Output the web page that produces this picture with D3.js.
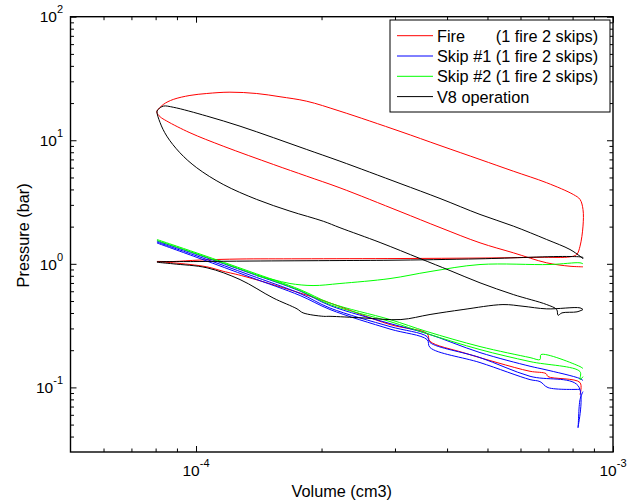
<!DOCTYPE html>
<html><head><meta charset="utf-8">
<script src="https://cdn.jsdelivr.net/npm/d3@7"></script>
<style>
body{margin:0;background:#fff}
svg{display:block}
text{font-family:"Liberation Sans",Arial,Helvetica,sans-serif;fill:#000}
</style>
</head><body>
<svg id="c" width="634" height="502"></svg>
<script>
// ---------- data: [Volume (cm3), Pressure (bar)] ----------
const seriesNames = ["Fire", "Skip #1", "Skip #2", "V8 operation"];
const seriesSuffix = ["(1 fire 2 skips)", "(1 fire 2 skips)", "(1 fire 2 skips)", ""];
const seriesColors = ["#ff0000", "#0000ff", "#00ff00", "#000000"];

const fireCycle = [
  [8.474e-4,0.946],[7.887e-4,0.956],[6.934e-4,1.019],[5.767e-4,1.228],[4.798e-4,1.479],[3.847e-4,1.967],
  [3.085e-4,2.65],[2.214e-4,4.12],[1.843e-4,5.12],[1.533e-4,6.37],[1.162e-4,8.96],[0.967e-4,11.5],
  [0.851e-4,14.3],[0.82e-4,15.5],[0.806e-4,16.7],
  [0.806e-4,17.2],[0.835e-4,19.5],[0.882e-4,21.4],[0.967e-4,23.05],[1.061e-4,23.9],[1.206e-4,24.5],
  [1.398e-4,23.9],[1.59e-4,22.5],[1.843e-4,20.7],[2.214e-4,17.2],[3.085e-4,11.8],[3.847e-4,9.07],
  [4.798e-4,6.99],[5.767e-4,5.62],[6.934e-4,4.53],[8.032e-4,3.64],[8.335e-4,3.32],[8.474e-4,2.75],
  [8.474e-4,2.02],[8.335e-4,1.388],[8.185e-4,1.19],[7.887e-4,1.139],
  [6.682e-4,1.129],[4.798e-4,1.114],[3.085e-4,1.104],[1.776e-4,1.098],[1.275e-4,1.094],[1.022e-4,1.073],
  [0.881e-4,1.044],[0.806e-4,1.044],
  [0.882e-4,1.019],[1.061e-4,0.946],[1.161e-4,0.871],[1.311e-4,0.789],[1.984e-4,0.514],[2.919e-4,0.3225],
  [3.581e-4,0.2725],[3.641e-4,0.236],[4.369e-4,0.1913],[5.271e-4,0.1588],[6.324e-4,0.135],[6.908e-4,0.1293],
  [6.985e-4,0.1223],[8.335e-4,0.1094],[8.335e-4,0.0874]
];

const skip1A = [[0.806e-4,1.53],[1.022e-4,1.167],[1.347e-4,0.842],[1.776e-4,0.602],[2.096e-4,0.4596],[2.919e-4,0.3286],
  [3.581e-4,0.2726],[4.798e-4,0.1913],[6.324e-4,0.1483],[6.87e-4,0.1394],[8.335e-4,0.1178],[8.474e-4,0.1135]];
const skip1B = [[0.806e-4,1.501],[1.022e-4,1.135],[1.347e-4,0.811],[1.776e-4,0.575],[2.096e-4,0.4386],[2.919e-4,0.3107],
  [3.581e-4,0.2578],[3.641e-4,0.2306],[4.798e-4,0.1743],[6.324e-4,0.123],[8.244e-4,0.1034],[8.244e-4,0.0472],
  [8.335e-4,0.0796],[8.474e-4,0.0925]];
const skip1C = [[0.806e-4,1.474],[1.022e-4,1.104],[1.347e-4,0.782],[1.776e-4,0.554],[2.096e-4,0.4266],[2.919e-4,0.2965],
  [3.581e-4,0.2438],[3.641e-4,0.2101],[4.798e-4,0.1588],[6.324e-4,0.1156],[6.682e-4,0.1114],[6.985e-4,0.0996],
  [8.335e-4,0.0965]];

const skip2A = [[0.806e-4,1.573],[1.022e-4,1.2],[1.347e-4,0.866],[1.776e-4,0.619],[2.096e-4,0.4816],[2.919e-4,0.354],
  [3.581e-4,0.283],[4.798e-4,0.214],[6.324e-4,0.1743],[6.682e-4,0.168],[6.72e-4,0.1843],[8.335e-4,0.1474],[8.474e-4,0.142]];
const skip2B = [[0.806e-4,1.544],[1.022e-4,1.178],[1.347e-4,0.85],[1.776e-4,0.608],[2.096e-4,0.468],[2.919e-4,0.341],
  [3.581e-4,0.2726],[4.798e-4,0.2023],[6.324e-4,0.1618],[8.335e-4,0.1342],[8.335e-4,0.1156],[8.474e-4,0.1223]];
const skip2C = [[1.4e-4,0.80],[1.53e-4,0.746],[1.68e-4,0.693],[1.908e-4,0.667],[2.214e-4,0.693],[2.919e-4,0.76],
  [3.641e-4,0.866],[4.798e-4,0.987],[7.062e-4,0.987],[8.335e-4,1.019],[8.474e-4,1.0]];

const v8Cycle = [
  [8.474e-4,0.4266],[8.198e-4,0.4087],[7.545e-4,0.401],[7.381e-4,0.3836],[7.328e-4,0.4266],[6.934e-4,0.468],
  [5.767e-4,0.564],[4.798e-4,0.702],[4.066e-4,0.882],[3.445e-4,1.104],[2.763e-4,1.488],[2.214e-4,1.96],
  [2.02e-4,2.21],[1.68e-4,2.67],[1.398e-4,3.32],[1.162e-4,4.39],[1.004e-4,5.99],[0.915e-4,7.92],
  [0.851e-4,10.8],[0.82e-4,13.9],[0.806e-4,17.2],
  [0.812e-4,17.8],[0.835e-4,18.9],[0.882e-4,18.5],[1.061e-4,15.7],[1.275e-4,13.0],[1.533e-4,10.5],
  [1.843e-4,8.42],[2.214e-4,6.77],[3.085e-4,4.47],[3.847e-4,3.38],[4.798e-4,2.51],[5.767e-4,2.02],
  [6.934e-4,1.573],[7.887e-4,1.306],[8.335e-4,1.152],[8.474e-4,1.104],
  [8.474e-4,1.124],[7.887e-4,1.146],[4.798e-4,1.098],[2.919e-4,1.069],[2.214e-4,1.063],[1.347e-4,1.053],
  [1.022e-4,1.044],[0.806e-4,1.034],
  [0.881e-4,1.0],[1.063e-4,0.928],[1.275e-4,0.746],[1.53e-4,0.53],[1.747e-4,0.432],[1.806e-4,0.401],
  [2.02e-4,0.376],[2.096e-4,0.376],[2.515e-4,0.365],[3.1e-4,0.354],[3.641e-4,0.389],[4.369e-4,0.4266],
  [5.447e-4,0.468],[6.084e-4,0.4535],[6.934e-4,0.432],[8.335e-4,0.44],[8.474e-4,0.4266]
];

const xMajorTicks = [1e-4, 1e-3];
const xMinorTicks = [6e-5,7e-5,8e-5,9e-5,2e-4,3e-4,4e-4,5e-4,6e-4,7e-4,8e-4,9e-4];
const xTickExp = ["-4", "-3"];
const yMajorTicks = [0.1, 1, 10, 100];
const yMinorTicks = [0.04,0.05,0.06,0.07,0.08,0.09,0.2,0.3,0.4,0.5,0.6,0.7,0.8,0.9,2,3,4,5,6,7,8,9,20,30,40,50,60,70,80,90];
const yTickExp = ["-1", "0", "1", "2"];

// ---------- drawing ----------
const L = 70.5, R = 613, T = 16.7, B = 452;
const svg = d3.select("#c");
const x = d3.scaleLog().domain([5e-5, 1e-3]).range([L, R]);
const y = d3.scaleLog().domain([0.03, 100]).range([B, T]);

const line = d3.line().x(d => x(d[0])).y(d => y(d[1])).curve(d3.curveCatmullRom.alpha(0.5));
const groups = [
  {color: seriesColors[0], segs: [fireCycle]},
  {color: seriesColors[1], segs: [skip1A, skip1B, skip1C]},
  {color: seriesColors[2], segs: [skip2A, skip2B, skip2C]},
  {color: seriesColors[3], segs: [v8Cycle]}
];
const plot = svg.append("g");
groups.forEach(g => g.segs.forEach(s => {
  plot.append("path").attr("d", line(s)).attr("fill","none")
    .attr("stroke", g.color).attr("stroke-width", 1).attr("stroke-linejoin","round");
}));

function addAxis(gen, tx, ty) {
  const g = svg.append("g").attr("transform", `translate(${tx},${ty})`).call(gen);
  g.select(".domain").remove();
  g.selectAll(".tick line").attr("stroke", "#000").attr("stroke-width", 1);
  g.selectAll(".tick text").remove();
}
const MAJ = 6, MIN = 3.5;
addAxis(d3.axisBottom(x).tickValues(xMajorTicks).tickSize(-MAJ).tickSizeOuter(0), 0, B);
addAxis(d3.axisBottom(x).tickValues(xMinorTicks).tickSize(-MIN).tickSizeOuter(0), 0, B);
addAxis(d3.axisTop(x).tickValues(xMajorTicks).tickSize(-MAJ).tickSizeOuter(0), 0, T);
addAxis(d3.axisTop(x).tickValues(xMinorTicks).tickSize(-MIN).tickSizeOuter(0), 0, T);
addAxis(d3.axisLeft(y).tickValues(yMajorTicks).tickSize(-MAJ).tickSizeOuter(0), L, 0);
addAxis(d3.axisLeft(y).tickValues(yMinorTicks).tickSize(-MIN).tickSizeOuter(0), L, 0);
addAxis(d3.axisRight(y).tickValues(yMajorTicks).tickSize(-MAJ).tickSizeOuter(0), R, 0);
addAxis(d3.axisRight(y).tickValues(yMinorTicks).tickSize(-MIN).tickSizeOuter(0), R, 0);

svg.append("rect").attr("x", L).attr("y", T).attr("width", R - L).attr("height", B - T)
  .attr("fill", "none").attr("stroke", "#000").attr("stroke-width", 1.4);

// tick labels
const LF = 15.5, EF = 11;
xMajorTicks.forEach((v, i) => {
  const t = svg.append("text").attr("x", x(v)).attr("y", 476).attr("text-anchor", "middle")
    .style("font-size", LF + "px");
  t.append("tspan").text("10");
  t.append("tspan").attr("dy", -9).style("font-size", EF + "px").text(xTickExp[i]);
});
yMajorTicks.forEach((v, i) => {
  const t = svg.append("text").attr("x", 63).attr("y", y(v) + 5.7).attr("text-anchor", "end")
    .style("font-size", LF + "px");
  t.append("tspan").text("10");
  t.append("tspan").attr("dy", -9).style("font-size", EF + "px").text(yTickExp[i]);
});

// axis titles
const TF = 16.3;
svg.append("text").attr("x", (L + R) / 2).attr("y", 496.5).attr("text-anchor", "middle")
  .style("font-size", TF + "px").text("Volume (cm3)");
svg.append("text").attr("transform", `translate(29,${(T + B) / 2 + 1}) rotate(-90)`)
  .attr("text-anchor", "middle").style("font-size", TF + "px").text("Pressure (bar)");

// legend
const lg = svg.append("g");
lg.append("rect").attr("x", 390).attr("y", 20).attr("width", 220).attr("height", 92)
  .attr("fill", "#fff").attr("stroke", "#000").attr("stroke-width", 1);
const rowY = i => 35.7 + i * 20.3;
const meas = lg.append("text").attr("x", 0).attr("y", -100).style("font-size", TF + "px")
  .style("white-space", "pre").text("Skip #1 (");
const colOff = meas.node().getSubStringLength(0, 8);
meas.remove();
seriesNames.forEach((n, i) => {
  lg.append("line").attr("x1", 397).attr("x2", 433).attr("y1", rowY(i)).attr("y2", rowY(i))
    .attr("stroke", seriesColors[i]).attr("stroke-width", 1);
  const t = lg.append("text").attr("x", 437).attr("y", rowY(i) + 6).style("font-size", TF + "px");
  if (i === 0) {
    t.append("tspan").text(n);
    t.append("tspan").attr("x", 437 + colOff).text(seriesSuffix[i]);
  } else {
    t.text(seriesSuffix[i] ? n + " " + seriesSuffix[i] : n);
  }
});
</script>
</body></html>
